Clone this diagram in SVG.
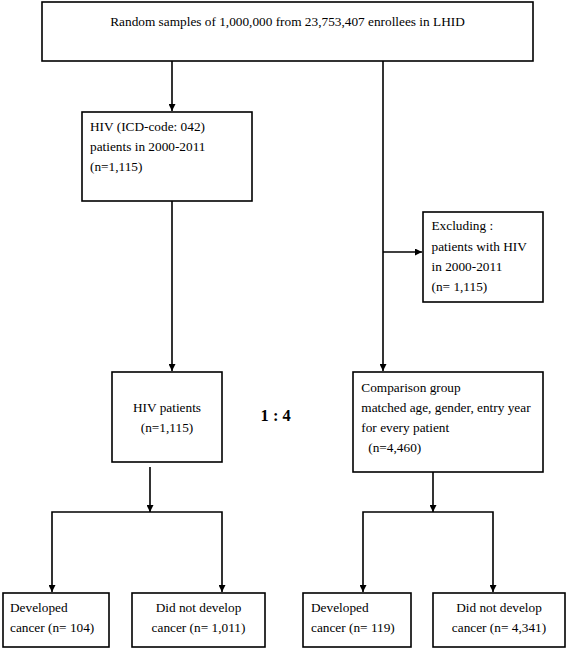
<svg xmlns="http://www.w3.org/2000/svg" width="567" height="649" viewBox="0 0 567 649">
<style>
.box{fill:#fff;stroke:#000;stroke-width:1.6}
.t{font-family:"Liberation Serif","Times New Roman",serif;font-size:13.3px;fill:#000}
.c{text-anchor:middle}
.ln{fill:none;stroke:#000;stroke-width:1.6}
.r{font-family:"Liberation Serif","Times New Roman",serif;font-size:16.5px;font-weight:bold;fill:#000}
</style>
<defs>
<marker id="ah" viewBox="0 0 10 10" refX="10" refY="5" markerWidth="7" markerHeight="7" markerUnits="userSpaceOnUse" orient="auto">
<path d="M0,0 L10,5 L0,10 Z" fill="#000"/>
</marker>
</defs>
<rect width="567" height="649" fill="#fff"/>
<g id="connectors">
<path class="ln" d="M172 61 V111" marker-end="url(#ah)"/>
<path class="ln" d="M383 61 V371" marker-end="url(#ah)"/>
<path class="ln" d="M383 252 H422" marker-end="url(#ah)"/>
<path class="ln" d="M172 201 V371" marker-end="url(#ah)"/>
<path class="ln" d="M150 467 V512" marker-end="url(#ah)"/>
<path class="ln" d="M150 512 H52 V592" marker-end="url(#ah)"/>
<path class="ln" d="M150 512 H222 V592" marker-end="url(#ah)"/>
<path class="ln" d="M433 472 V512" marker-end="url(#ah)"/>
<path class="ln" d="M433 512 H363 V592" marker-end="url(#ah)"/>
<path class="ln" d="M433 512 H493 V592" marker-end="url(#ah)"/>
</g>
<g id="top">
<rect class="box" x="42" y="2" width="491" height="59"/>
<text class="t c" x="287.5" y="26">Random samples of 1,000,000 from 23,753,407 enrollees in LHID</text>
</g>
<g id="hiv">
<rect class="box" x="82" y="112" width="170" height="89"/>
<text class="t" x="90" y="131">HIV (ICD-code: 042)</text>
<text class="t" x="90" y="151">patients in 2000-2011</text>
<text class="t" x="90" y="171">(n=1,115)</text>
</g>
<g id="excluding">
<rect class="box" x="423" y="212" width="120" height="90"/>
<text class="t" x="431.5" y="230">Excluding :</text>
<text class="t" x="431.5" y="251">patients with HIV</text>
<text class="t" x="431.5" y="271">in 2000-2011</text>
<text class="t" x="431.5" y="291">(n= 1,115)</text>
</g>
<g id="hivpatients">
<rect class="box" x="112" y="372" width="110" height="90"/>
<text class="t c" x="167" y="412">HIV patients</text>
<text class="t c" x="167" y="432">(n=1,115)</text>
</g>
<g id="ratio">
<text class="r" x="260.5" y="421">1 : 4</text>
</g>
<g id="comparison">
<rect class="box" x="353" y="372" width="190" height="100"/>
<text class="t" x="361.3" y="392">Comparison group</text>
<text class="t" x="361.3" y="412">matched age, gender, entry year</text>
<text class="t" x="361.3" y="432">for every patient</text>
<text class="t" x="368.3" y="452">(n=4,460)</text>
</g>
<g id="dev1">
<rect class="box" x="3" y="593" width="106" height="54"/>
<text class="t" x="10" y="612">Developed</text>
<text class="t" x="10" y="632">cancer (n= 104)</text>
</g>
<g id="nodev1">
<rect class="box" x="132" y="593" width="133" height="54"/>
<text class="t c" x="198.5" y="612">Did not develop</text>
<text class="t c" x="198.5" y="632">cancer (n= 1,011)</text>
</g>
<g id="dev2">
<rect class="box" x="303" y="593" width="108" height="54"/>
<text class="t" x="311" y="612">Developed</text>
<text class="t" x="311" y="632">cancer (n= 119)</text>
</g>
<g id="nodev2">
<rect class="box" x="433" y="593" width="132" height="54"/>
<text class="t c" x="499" y="612">Did not develop</text>
<text class="t c" x="499" y="632">cancer (n= 4,341)</text>
</g>
</svg>
